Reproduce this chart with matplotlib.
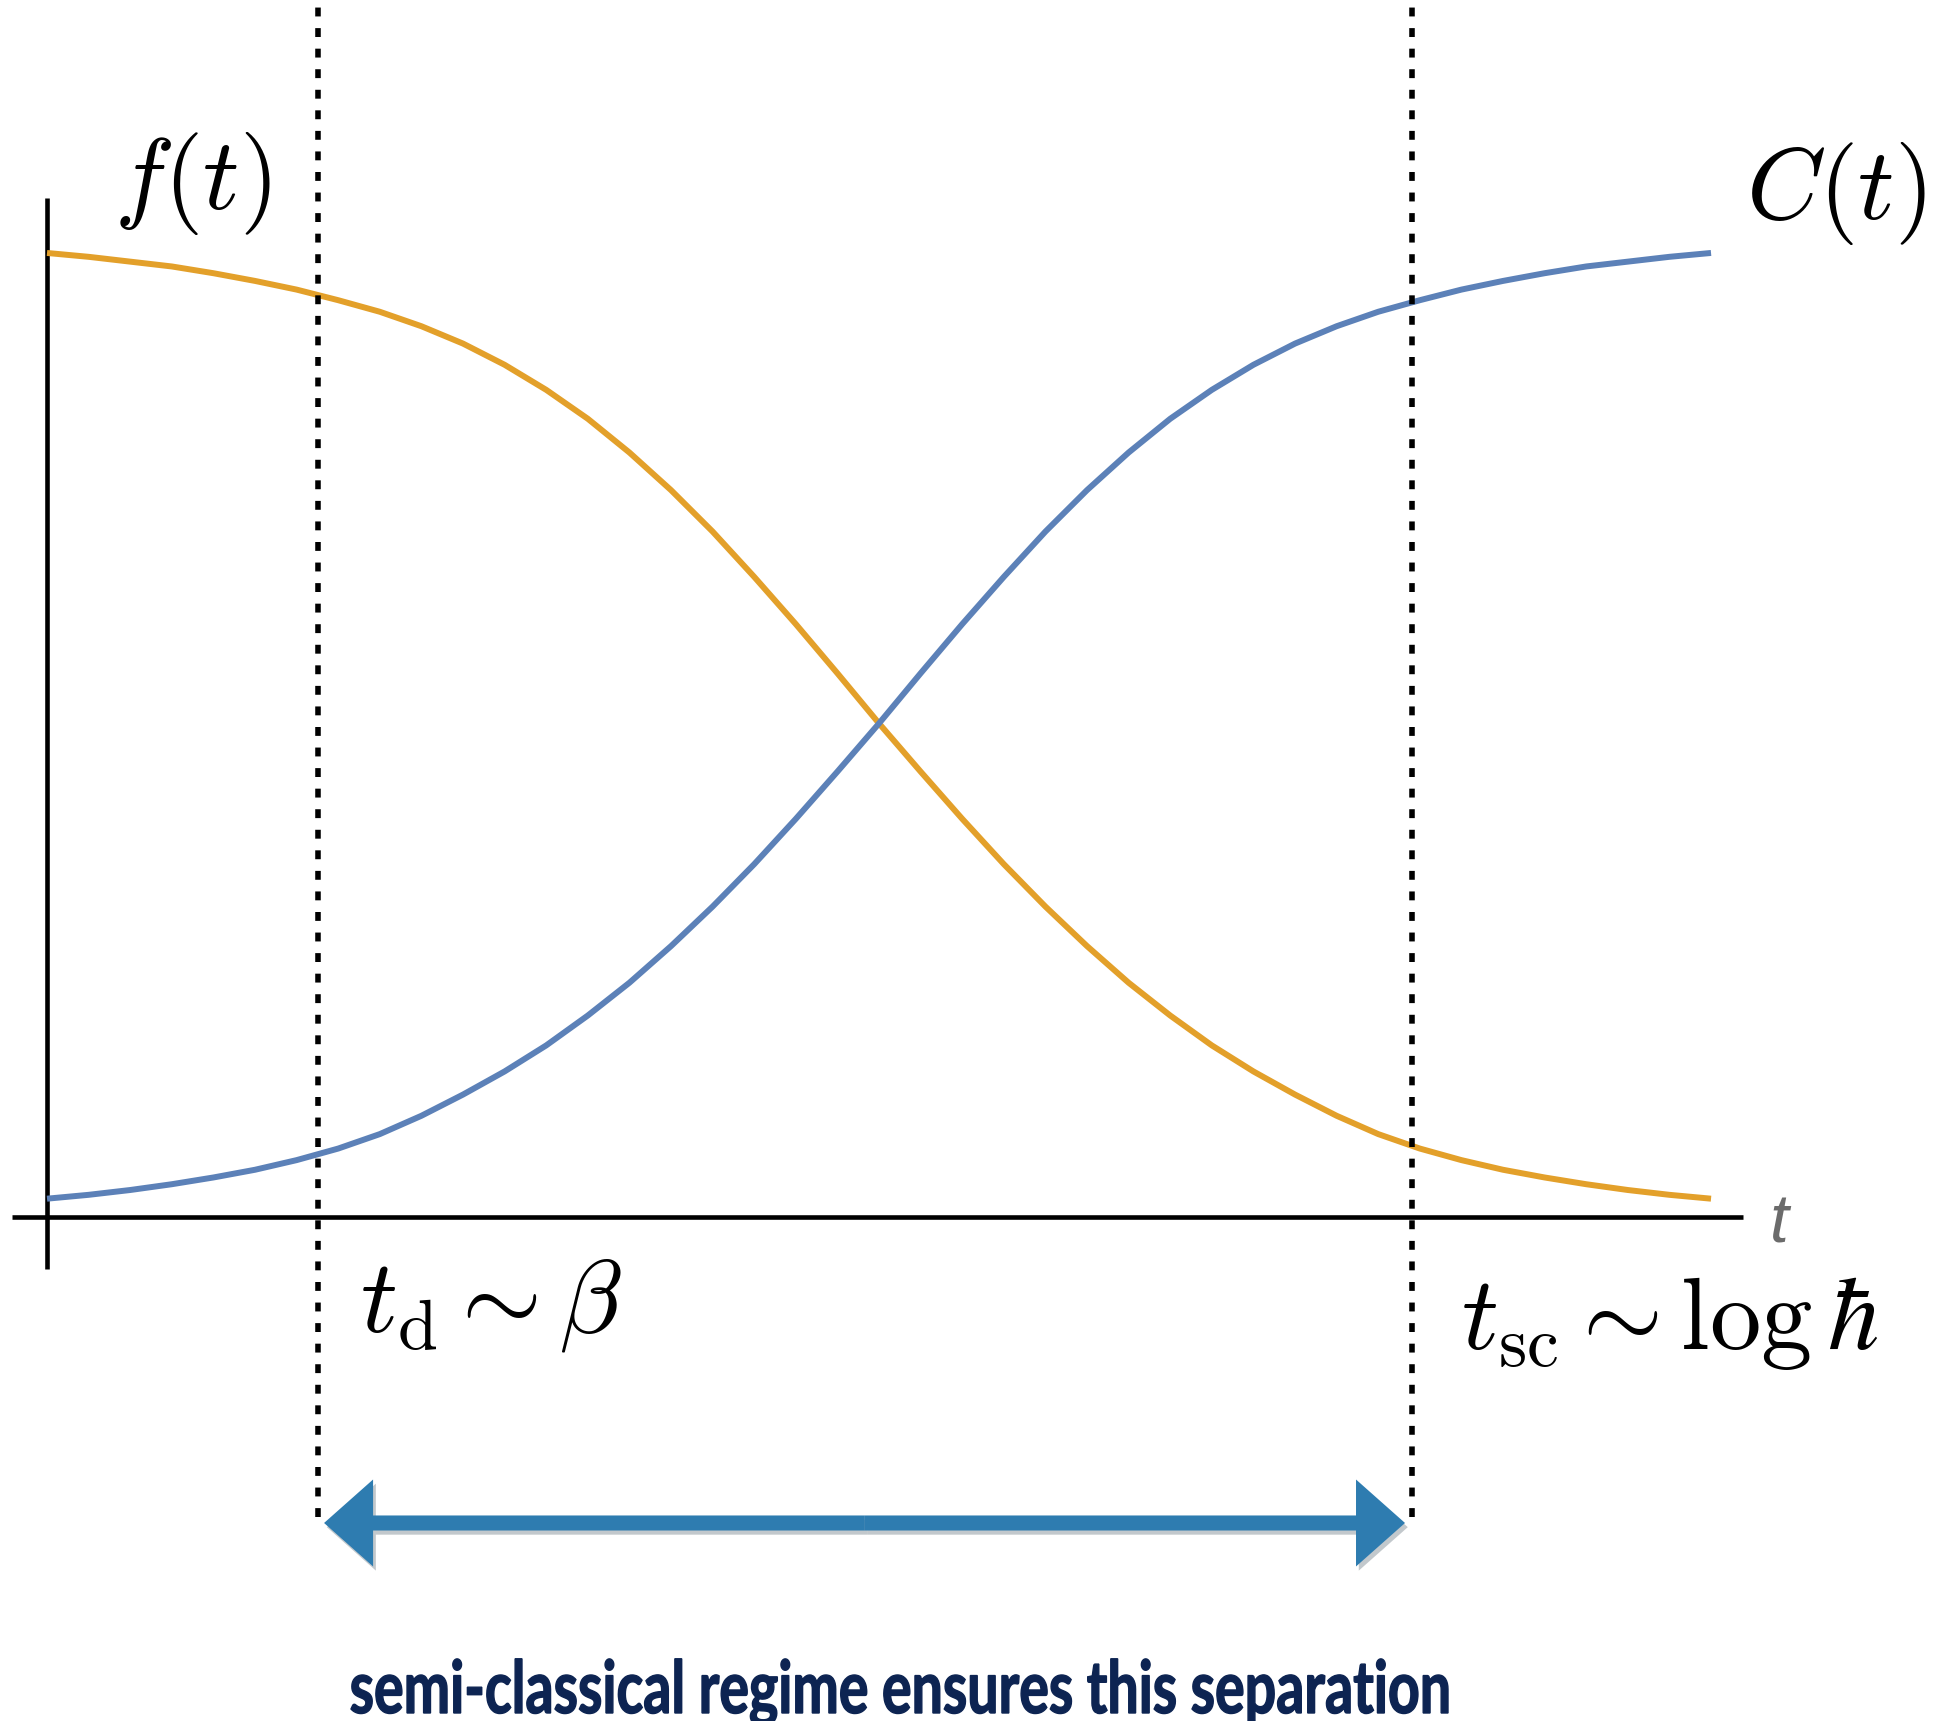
import matplotlib.pyplot as plt
from matplotlib.patches import FancyArrow, PathPatch
from matplotlib.textpath import TextPath
from matplotlib.font_manager import FontProperties
from matplotlib.transforms import Affine2D
import matplotlib.patheffects as pe

plt.rcParams['mathtext.fontset'] = 'cm'

# time samples and the two curves
t = [0.00, 0.25, 0.50, 0.75, 1.00, 1.25, 1.50, 1.75, 2.00, 2.25, 2.50,
     2.75, 3.00, 3.25, 3.50, 3.75, 4.00, 4.25, 4.50, 4.75, 5.00,
     5.25, 5.50, 5.75, 6.00, 6.25, 6.50, 6.75, 7.00, 7.25, 7.50,
     7.75, 8.00, 8.25, 8.50, 8.75, 9.00, 9.25, 9.50, 9.75, 10.00]
C_t = [0.019, 0.023, 0.028, 0.034, 0.041, 0.049, 0.059, 0.071, 0.086, 0.105, 0.127,
       0.151, 0.178, 0.209, 0.243, 0.281, 0.322, 0.366, 0.413, 0.462, 0.512,
       0.564, 0.615, 0.664, 0.711, 0.754, 0.793, 0.828, 0.858, 0.884, 0.906,
       0.924, 0.939, 0.951, 0.962, 0.971, 0.979, 0.986, 0.991, 0.996, 1.000]
f_t = [1.000, 0.996, 0.991, 0.986, 0.979, 0.971, 0.962, 0.951, 0.939, 0.924, 0.906,
       0.884, 0.858, 0.828, 0.793, 0.754, 0.711, 0.664, 0.615, 0.564, 0.512,
       0.462, 0.413, 0.366, 0.322, 0.281, 0.243, 0.209, 0.178, 0.151, 0.127,
       0.105, 0.086, 0.071, 0.059, 0.049, 0.041, 0.034, 0.028, 0.023, 0.019]

# characteristic times
t_d = 1.63
t_sc = 8.20

orange = '#E3A02A'
blue = '#5C81B8'
arrow_blue = '#2E7CB0'
caption = 'semi-classical regime ensures this separation'

fig = plt.figure(figsize=(19.41, 17.21), dpi=100)
ax = fig.add_axes([0, 0, 1, 1])
ax.set_xlim(-0.2825, 11.382)
ax.set_ylim(-0.5228, 1.2624)
ax.axis('off')

# axes drawn as plain lines crossing at the origin
ax.plot([-0.21, 10.19], [0, 0], color='black', lw=3.3, solid_capstyle='butt')
ax.plot([0, 0], [-0.054, 1.057], color='black', lw=3.3, solid_capstyle='butt')
ax.text(10.41, -0.026, 't', fontsize=49, color='#6B6B6B', style='italic',
        family='Liberation Sans', ha='center', va='baseline')

ax.plot(t, f_t, color=orange, lw=4.3, solid_capstyle='butt')
ax.plot(t, C_t, color=blue, lw=4.3, solid_capstyle='butt')

for tx in (t_d, t_sc):
    ax.plot([tx, tx], [-0.311, 1.3], color='black', lw=4.0, linestyle=(0, (1.6, 2.1)))

ax.text(0.874, 1.072, r'$f(t)$', fontsize=73, ha='center', va='center')
ax.text(10.75, 1.062, r'$C(t)$', fontsize=73, ha='center', va='center')
ax.text(1.88, -0.119, r'$t_{\rm d}\sim\beta$', fontsize=74, ha='left', va='baseline')
ax.text(8.50, -0.137, r'$t_{\rm sc}\sim\log\hbar$', fontsize=74, ha='left', va='baseline')

# double-headed arrow between the two time scales
y_arr = -0.3174
mid = 0.5 * (t_d + t_sc)
shadow = [pe.SimplePatchShadow(offset=(2, -3), alpha=0.25), pe.Normal()]
for end in (1.665, 8.161):
    arr = FancyArrow(mid, y_arr, end - mid, 0, width=0.0156, head_width=0.0902,
                     head_length=0.2945, length_includes_head=True,
                     color=arrow_blue, lw=0)
    arr.set_path_effects(shadow)
    ax.add_patch(arr)

# caption, squeezed horizontally to a narrow hand-lettered look
tp = TextPath((0, 0), caption, size=73, prop=FontProperties(family='Lato', weight='bold'))
ext = tp.get_extents()
sx = 1097 / ext.width
cap_tr = Affine2D().translate(-ext.x0, 0).scale(sx, 1.0).translate(351, 8)
fig.add_artist(PathPatch(tp, transform=cap_tr, facecolor='#0D2452', edgecolor='#0D2452', lw=1.0))

fig.savefig('out.png', dpi=100)
